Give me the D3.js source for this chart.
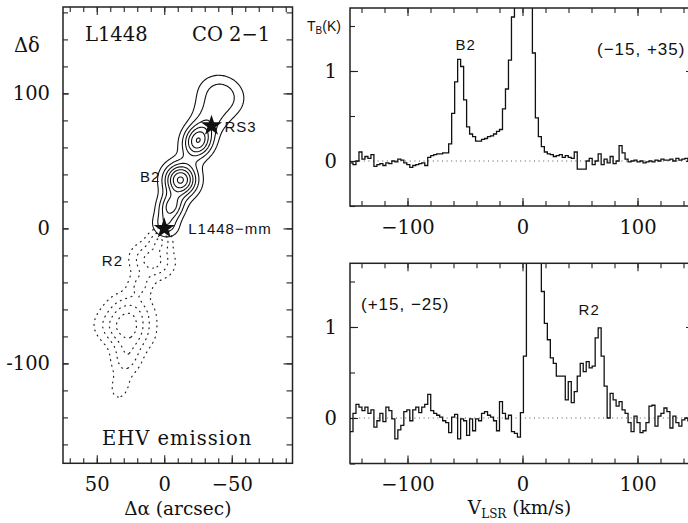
<!DOCTYPE html>
<html>
<head>
<meta charset="utf-8">
<script src="https://cdn.jsdelivr.net/npm/d3@7"></script>
<style>
  body { margin: 0; background: #fff; }
  svg { display: block; }
  .frame { fill: none; stroke: #222; stroke-width: 1.5; }
  .tick line { stroke: #222; stroke-width: 1.1; }
  .domain { display: none; }
  .tick text { font-family: "DejaVu Serif", serif; font-size: 19.5px; fill: #111; }
  .serif { font-family: "DejaVu Serif", serif; font-size: 19.5px; fill: #111; }
  .title { font-family: "DejaVu Serif", serif; font-size: 18.5px; fill: #111; }
  .sans { font-family: "Liberation Sans", Arial, sans-serif; font-size: 15px; fill: #111; letter-spacing: 1px; }
  .contour-blue { fill: none; stroke: #111; stroke-width: 1.1; }
  .contour-red { fill: none; stroke: #222; stroke-width: 1.2; stroke-dasharray: 0.9 4.8; stroke-linecap: round; }
  .spectrum { fill: none; stroke: #111; stroke-width: 1.3; }
  .zero-line { stroke: #444; stroke-width: 0.9; stroke-dasharray: 1 3.6; }
</style>
</head>
<body>
<div id="wrapper"></div>
<script>

// 1. Data

// map: emission knots (offsets in arcsec)
// blue lobe, solid contours
const blueKnots = [
  { name: "mm",  da: -1,  dd: 2,  amp: 2.4, sAlong: 6,    sPerp: 7 },
  { name: "K1",  da: -5,  dd: 16, amp: 4.2, sAlong: 7,    sPerp: 6.5 },
  { name: "B2",  da: -12, dd: 36, amp: 7.2, sAlong: 8.5,  sPerp: 8.5 },
  { name: "K2",  da: -25, dd: 65, amp: 6.0, sAlong: 9,    sPerp: 7.5 },
  { name: "bridge", da: -34, dd: 82, amp: 1.6, sAlong: 8, sPerp: 9 },
  { name: "top", da: -42, dd: 98, amp: 2.8, sAlong: 10.5, sPerp: 12 },
];
// red lobe, dotted contours
const redKnots = [
  { name: "mm",  da: 3,  dd: -8,   amp: 2.5, sAlong: 6,  sPerp: 6 },
  { name: "R2",  da: 9,  dd: -24,  amp: 3.5, sAlong: 9,  sPerp: 11 },
  { name: "neck", da: 18, dd: -42, amp: 1.8, sAlong: 6,  sPerp: 6 },
  { name: "R3a", da: 25, dd: -62,  amp: 3.0, sAlong: 10, sPerp: 12 },
  { name: "R3b", da: 30, dd: -76,  amp: 3.2, sAlong: 9,  sPerp: 14 },
  { name: "R4",  da: 28, dd: -96,  amp: 2.5, sAlong: 10, sPerp: 8 },
  { name: "R5",  da: 33, dd: -118, amp: 1.6, sAlong: 7,  sPerp: 5 },
];
const blueLevels = [1, 2, 3, 4, 5, 6, 7];
const redLevels = [1, 2, 3, 4];
const stars = [
  { name: "L1448−mm", da: 0, dd: 0 },
  { name: "RS3", da: -35, dd: 76 },
];
const mapTicksX = [50, 0, -50];
const mapTicksY = [100, 0, -100];

// spectra: brightness temperature per channel (K)
const channelStart = -150;   // km/s, left edge of first channel
const channelWidth = 2.6;    // km/s
const spectrumNorth = [ // offset (-15, +35)
  -0.02,-0.04,0.00,0.10,0.02,0.05,0.03,0.07,-0.06,-0.04,
  -0.03,-0.05,-0.02,-0.03,0.00,-0.01,0.02,0.01,-0.02,-0.04,
  -0.07,-0.05,-0.04,-0.03,-0.02,-0.05,0.04,0.06,0.07,0.08,
  0.08,0.09,0.09,0.19,0.53,0.88,1.13,1.05,0.68,0.38,
  0.30,0.27,0.22,0.22,0.24,0.25,0.27,0.28,0.30,0.33,
  0.35,0.58,0.80,1.12,1.60,2.00,2.50,2.60,2.40,2.10,
  1.90,1.20,0.48,0.27,0.16,0.10,0.08,0.07,0.05,0.06,
  0.07,0.04,0.06,0.04,0.03,0.10,-0.09,-0.09,-0.09,0.00,
  0.03,-0.04,0.00,0.08,-0.04,0.02,-0.02,0.05,-0.03,0.00,
  0.17,0.09,0.02,-0.01,0.00,0.01,-0.01,0.00,-0.02,-0.01,
  0.00,-0.01,0.01,0.00,0.02,0.01,0.01,0.02,0.00,0.03,
  0.01,0.02,0.03,0.00,0.02,0.01
];
const spectrumSouth = [ // offset (+15, -25)
  -0.15,0.05,0.15,0.12,0.08,0.12,0.05,0.09,-0.10,-0.03,
  0.05,-0.04,0.12,0.08,-0.01,-0.23,-0.13,-0.08,0.07,0.09,
  -0.03,0.09,0.12,0.06,0.12,0.15,0.26,0.08,0.05,0.03,
  0.01,-0.03,-0.05,-0.16,0.01,0.04,-0.23,-0.01,-0.03,-0.19,
  -0.01,-0.14,-0.01,-0.03,0.05,0.07,0.03,0.01,-0.03,-0.14,
  0.18,0.05,-0.01,0.03,-0.15,-0.17,-0.21,0.06,0.68,2.20,
  2.60,2.50,2.20,1.90,1.39,1.04,0.86,0.66,0.60,0.46,
  0.46,0.46,0.20,0.40,0.17,0.29,0.46,0.60,0.51,0.62,
  0.55,0.57,0.88,0.99,0.68,0.35,0.00,0.27,0.20,0.13,
  0.18,0.09,0.05,-0.05,-0.15,0.02,-0.05,-0.16,-0.14,-0.05,
  0.13,0.14,-0.09,0.02,0.05,0.11,0.07,-0.11,0.02,-0.05,
  -0.09,-0.02,0.00,-0.03,0.02,0.00
];
const velocityTicks = [-100, 0, 100];
const temperatureTicks = [0, 1];

// 2. Dimensions

const width = 688;
const height = 523;
const mapBox = { left: 63, right: 292.5, top: 7, bottom: 463.3 };
const topBox = { left: 350, right: 695, top: 8, bottom: 206 };
const botBox = { left: 350, right: 695, top: 263.3, bottom: 463.5 };

// 3. Canvas

const svg = d3.select("#wrapper")
  .append("svg")
  .attr("width", width)
  .attr("height", height);

const defs = svg.append("defs");

// 4. Scales

const mapX = d3.scaleLinear().domain([75, -95]).range([mapBox.left, mapBox.right]);
const mapY = d3.scaleLinear().domain([164, -174]).range([mapBox.top, mapBox.bottom]);
const velX = d3.scaleLinear().domain([-150, 150]).range([topBox.left, topBox.right]);
const tempTopY = d3.scaleLinear().domain([-0.5, 1.7]).range([topBox.bottom, topBox.top]);
const tempBotY = d3.scaleLinear().domain([-0.5, 1.7]).range([botBox.bottom, botBox.top]);

const minus = d => d < 0 ? "−" + Math.abs(d) : d;

// 5. Map panel

const map = svg.append("g");
const clipMap = defs.append("clipPath").attr("id", "clip-map");
clipMap.append("rect")
  .attr("x", mapBox.left).attr("y", mapBox.top)
  .attr("width", mapBox.right - mapBox.left)
  .attr("height", mapBox.bottom - mapBox.top);

// sample the knots on a 1" grid and let d3.contours trace the levels
const gridN = 170, gridM = 338;
const fieldFromKnots = (knots, axis) => {
  const norm = Math.hypot(axis[0], axis[1]);
  const ax = axis[0] / norm, ay = axis[1] / norm;
  const values = new Float64Array(gridN * gridM);
  for (let j = 0; j < gridM; j++) {
    const dd = 164 - (j + 0.5);
    for (let i = 0; i < gridN; i++) {
      const da = 75 - (i + 0.5);
      let s = 0;
      knots.forEach(k => {
        const dx = da - k.da, dy = dd - k.dd;
        const u = dx * ax + dy * ay;
        const w = -dx * ay + dy * ax;
        s += k.amp * Math.exp(-0.5 * (u * u / (k.sAlong * k.sAlong) + w * w / (k.sPerp * k.sPerp)));
      });
      values[j * gridN + i] = s;
    }
  }
  return values;
};

const gridToMap = d3.geoTransform({
  point(x, y) { this.stream.point(mapX(75 - x), mapY(164 - y)); }
});
const contourPath = d3.geoPath(gridToMap);

const blueContours = d3.contours().size([gridN, gridM]).thresholds(blueLevels)(fieldFromKnots(blueKnots, [-0.39, 0.92]));
const redContours = d3.contours().size([gridN, gridM]).thresholds(redLevels)(fieldFromKnots(redKnots, [0.25, -0.97]));

const contourGroup = map.append("g").attr("clip-path", "url(#clip-map)");
contourGroup.selectAll(".contour-red")
  .data(redContours)
  .join("path")
  .attr("class", "contour-red")
  .attr("d", contourPath);
contourGroup.selectAll(".contour-blue")
  .data(blueContours)
  .join("path")
  .attr("class", "contour-blue")
  .attr("d", contourPath);

map.selectAll(".star")
  .data(stars)
  .join("path")
  .attr("class", "star")
  .attr("transform", d => `translate(${mapX(d.da)},${mapY(d.dd)})`)
  .attr("d", d3.symbol(d3.symbolStar).size(140))
  .attr("fill", "#111");

// map axes: minor and major inward ticks on all sides
const addAxis = (g, axis, transform) => g.append("g").attr("transform", transform).call(axis);

addAxis(map, d3.axisBottom(mapX).tickValues(d3.range(70, -95, -10)).tickSize(-5).tickFormat(""), `translate(0,${mapBox.bottom})`);
addAxis(map, d3.axisBottom(mapX).tickValues(mapTicksX).tickSize(-8).tickPadding(14).tickFormat(minus), `translate(0,${mapBox.bottom})`);
addAxis(map, d3.axisTop(mapX).tickValues(d3.range(70, -95, -10)).tickSize(-5).tickFormat(""), `translate(0,${mapBox.top})`);
addAxis(map, d3.axisTop(mapX).tickValues(mapTicksX).tickSize(-8).tickFormat(""), `translate(0,${mapBox.top})`);
addAxis(map, d3.axisLeft(mapY).tickValues(d3.range(160, -175, -20)).tickSize(-5).tickFormat(""), `translate(${mapBox.left},0)`);
addAxis(map, d3.axisLeft(mapY).tickValues(mapTicksY).tickSize(-6).tickPadding(13).tickFormat(d => d), `translate(${mapBox.left},0)`);
addAxis(map, d3.axisRight(mapY).tickValues(d3.range(160, -175, -20)).tickSize(-6).tickFormat(""), `translate(${mapBox.right},0)`);
addAxis(map, d3.axisRight(mapY).tickValues(mapTicksY).tickSize(-9).tickFormat(""), `translate(${mapBox.right},0)`);

map.append("rect")
  .attr("class", "frame")
  .attr("x", mapBox.left).attr("y", mapBox.top)
  .attr("width", mapBox.right - mapBox.left)
  .attr("height", mapBox.bottom - mapBox.top);

// map labels
map.append("text").attr("class", "serif").attr("x", 85).attr("y", 40.5).text("L1448");
map.append("text").attr("class", "serif").attr("x", 192).attr("y", 40.5).text("CO 2−1");
map.append("text").attr("class", "serif").attr("x", 102).attr("y", 445)
  .style("letter-spacing", "1px").text("EHV emission");
map.append("text").attr("class", "sans").attr("x", mapX(-35) + 13).attr("y", mapY(76) + 6).text("RS3");
map.append("text").attr("class", "sans").attr("x", mapX(-12) - 20).attr("y", mapY(36) + 2).attr("text-anchor", "end").text("B2");
map.append("text").attr("class", "sans").attr("x", mapX(0) + 24).attr("y", mapY(0) + 6).text("L1448−mm");
map.append("text").attr("class", "sans").attr("x", mapX(12) - 25).attr("y", mapY(-24) + 5).attr("text-anchor", "end").text("R2");

map.append("text").attr("class", "serif").attr("x", 14).attr("y", 52).text("Δδ");
map.append("text").attr("class", "title").attr("x", (mapBox.left + mapBox.right) / 2).attr("y", 515)
  .attr("text-anchor", "middle").text("Δα (arcsec)");

// 6. Spectra panels

const drawSpectrum = (box, yScale, values, id) => {
  const g = svg.append("g");
  defs.append("clipPath").attr("id", id)
    .append("rect")
    .attr("x", box.left).attr("y", box.top)
    .attr("width", box.right - box.left)
    .attr("height", box.bottom - box.top);

  g.append("line")
    .attr("class", "zero-line")
    .attr("x1", box.left).attr("x2", box.right)
    .attr("y1", yScale(0)).attr("y2", yScale(0));

  const points = values.map((t, i) => [channelStart + i * channelWidth, t]);
  points.push([channelStart + values.length * channelWidth, values[values.length - 1]]);
  const line = d3.line()
    .x(d => velX(d[0]))
    .y(d => yScale(d[1]))
    .curve(d3.curveStepAfter);
  g.append("path")
    .attr("class", "spectrum")
    .attr("clip-path", `url(#${id})`)
    .attr("d", line(points));

  const minorV = d3.range(-140, 150, 20);
  const minorT = [-0.5, 0, 0.5, 1, 1.5];
  addAxis(g, d3.axisBottom(velX).tickValues(minorV).tickSize(-5).tickFormat(""), `translate(0,${box.bottom})`);
  addAxis(g, d3.axisBottom(velX).tickValues(velocityTicks).tickSize(-8).tickPadding(14).tickFormat(minus), `translate(0,${box.bottom})`);
  addAxis(g, d3.axisTop(velX).tickValues(minorV).tickSize(-5).tickFormat(""), `translate(0,${box.top})`);
  addAxis(g, d3.axisTop(velX).tickValues(velocityTicks).tickSize(-8).tickFormat(""), `translate(0,${box.top})`);
  addAxis(g, d3.axisLeft(yScale).tickValues(minorT).tickSize(-5).tickFormat(""), `translate(${box.left},0)`);
  addAxis(g, d3.axisLeft(yScale).tickValues(temperatureTicks).tickSize(-8).tickPadding(13).tickFormat(d => d), `translate(${box.left},0)`);
  addAxis(g, d3.axisRight(yScale).tickValues(minorT).tickSize(-5).tickFormat(""), `translate(${box.right},0)`);
  addAxis(g, d3.axisRight(yScale).tickValues(temperatureTicks).tickSize(-9).tickFormat(""), `translate(${box.right},0)`);

  g.append("rect")
    .attr("class", "frame")
    .attr("x", box.left).attr("y", box.top)
    .attr("width", box.right - box.left)
    .attr("height", box.bottom - box.top);
  return g;
};

const north = drawSpectrum(topBox, tempTopY, spectrumNorth, "clip-north");
const south = drawSpectrum(botBox, tempBotY, spectrumSouth, "clip-south");

const tb = north.append("text").attr("class", "sans").attr("x", 307).attr("y", 31)
  .style("font-size", "14px").style("letter-spacing", "0px");
tb.append("tspan").text("T");
tb.append("tspan").attr("dy", 3).style("font-size", "10px").text("B");
tb.append("tspan").attr("dy", -3).text("(K)");

north.append("text").attr("class", "sans").attr("x", velX(-49.5)).attr("y", 50)
  .attr("text-anchor", "middle").text("B2");
north.append("text").attr("class", "sans").attr("x", 597).attr("y", 55)
  .style("font-size", "17px").text("(−15, +35)");

south.append("text").attr("class", "sans").attr("x", 361).attr("y", 310)
  .style("font-size", "17px").text("(+15, −25)");
south.append("text").attr("class", "sans").attr("x", velX(58)).attr("y", 315)
  .attr("text-anchor", "middle").text("R2");

const vl = svg.append("text").attr("class", "title")
  .attr("x", (botBox.left + botBox.right) / 2 - 3).attr("y", 514)
  .attr("text-anchor", "middle");
vl.append("tspan").text("V");
vl.append("tspan").attr("dy", 4).style("font-size", "12px").text("LSR");
vl.append("tspan").attr("dy", -4).text(" (km/s)");

</script>
</body>
</html>
